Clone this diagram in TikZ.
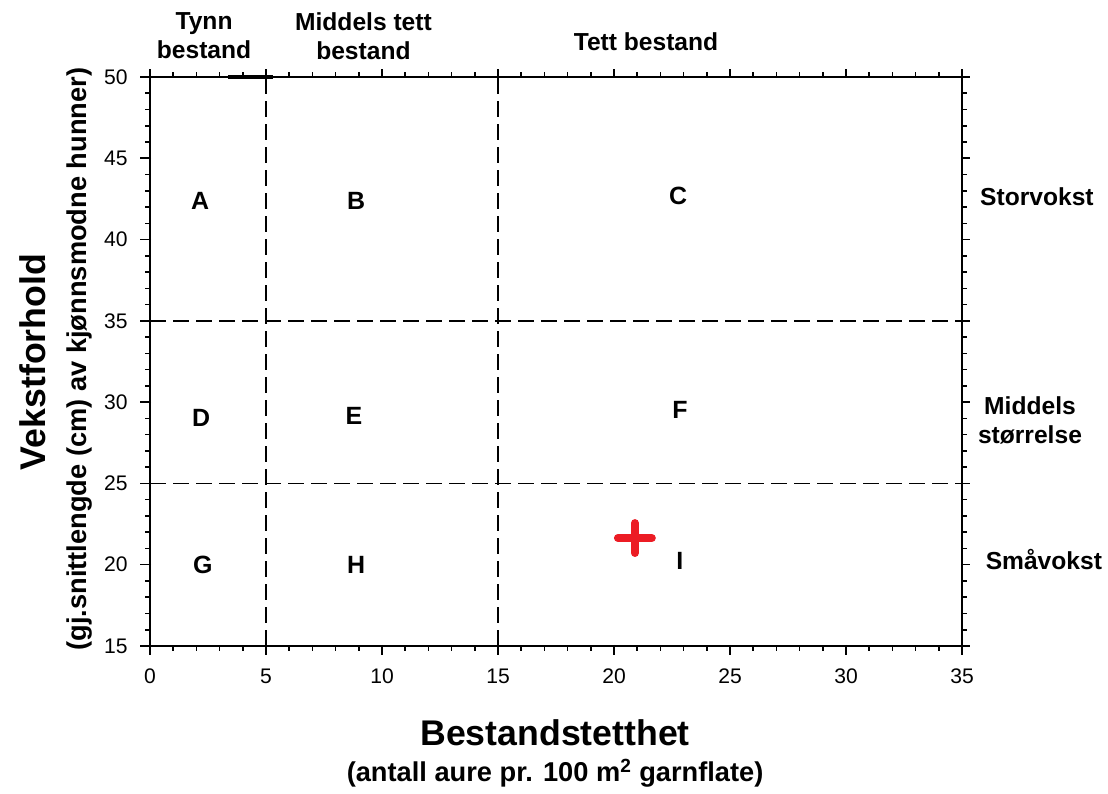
\documentclass[tikz,border=0pt]{standalone}
\usepackage{fontspec}
\setmainfont{Liberation Sans}
\definecolor{plusred}{RGB}{236,28,36}

\begin{document}
\begin{tikzpicture}[x=0.464cm, y=0.32514cm,
	 ticklabel/.style={inner sep=0pt, font=\fontsize{12}{14}\selectfont},
	 zone/.style={font=\fontsize{14.2}{16}\selectfont\bfseries},
	 classlabel/.style={align=center, font=\fontsize{14}{16.5}\selectfont\bfseries},
	 axistitle/.style={font=\fontsize{20.3}{24}\selectfont\bfseries},
	 axissub/.style={font=\fontsize{15.5}{18}\selectfont\bfseries},
	 divider/.style={line width=0.8pt, dash pattern=on 0.32cm off 0.14cm}]
	 \useasboundingbox (-6.466, 5.896) rectangle (41.293, 54.737);

	 % dividers
	 \draw[divider] (5, 15) -- (5, 50);
	 \draw[divider] (15, 15) -- (15, 50);
	 \draw[divider] (0, 35) -- (35, 35);
	 \draw[divider] (0, 25) -- (35, 25);

	 % frame and ticks
	 \draw[line width=1.1pt] (0, 15) rectangle (35, 50);
	 \foreach \x in {1, ..., 34}
	 {
	 \draw[line width=0.9pt] (\x, 15) -- ++(0, -0.1cm);
	 \draw[line width=0.9pt] (\x, 50) -- ++(0, 0.1cm);
	 }
	 \foreach \y in {16, ..., 49}
	 {
	 \draw[line width=0.9pt] (0, \y) -- ++(-0.11cm, 0);
	 \draw[line width=0.9pt] (35, \y) -- ++(0.09cm, 0);
	 }
	 \foreach \x in {0, 5, ..., 35}
	 {
	 \draw[line width=0.9pt] (\x, 15) ++(0, 0.02cm) -- ++(0, -0.2cm);
	 \draw[line width=0.9pt] (\x, 50) ++(0, -0.02cm) -- ++(0, 0.18cm);
	 \node[ticklabel, anchor = north] (xlab\x) at ([yshift=-0.45cm] \x, 15) {\x};
	 }
	 \foreach \y in {15, 20, ..., 50}
	 {
	 \draw[line width=0.9pt] (0, \y) ++(0.02cm, 0) -- ++(-0.22cm, 0);
	 \draw[line width=0.9pt] (35, \y) ++(-0.02cm, 0) -- ++(0.18cm, 0);
	 \node[ticklabel, anchor = east] (ylab\y) at ([xshift=-0.44cm] 0, \y) {\y};
	 }
	 \draw[line width=1.8pt] (3.36, 50) -- (5.3, 50);

	 % zones
	 \node[zone] (zoneA) at (2.16, 42.37) {A};
	 \node[zone] (zoneB) at (8.88, 42.37) {B};
	 \node[zone] (zoneC) at (22.76, 42.68) {C};
	 \node[zone] (zoneD) at (2.20, 29.02) {D};
	 \node[zone] (zoneE) at (8.79, 29.15) {E};
	 \node[zone] (zoneF) at (22.84, 29.52) {F};
	 \node[zone] (zoneG) at (2.28, 19.98) {G};
	 \node[zone] (zoneH) at (8.88, 19.98) {H};
	 \node[zone] (zoneI) at (22.84, 20.23) {I};

	 % density classes
	 \node[classlabel] (thin) at (2.33, 52.52) {Tynn\\bestand};
	 \node[classlabel] (medium) at (9.20, 52.52) {Middels tett\\bestand};
	 \node[classlabel] (dense) at (21.38, 52.15) {Tett bestand};

	 % growth classes
	 \node[classlabel] (large) at (38.23, 42.62) {Storvokst};
	 \node[classlabel] (mid) at (37.93, 28.90) {Middels\\størrelse};
	 \node[classlabel] (small) at (38.53, 20.29) {Småvokst};

	 % axis titles
	 \node[axistitle, rotate = 90] (ytitle) at (-5.04, 32.47) {Vekstforhold};
	 \node[axissub, rotate = 90] (ysub) at (-3.02, 32.65) {(gj.snittlengde (cm) av kjønnsmodne hunner)};
	 \node[axistitle] (xtitle) at (17.46, 9.65) {Bestandstetthet};
	 \node[axissub] (xsub) at (17.46, 7.19) {(antall aure pr. 100 m\textsuperscript{2} garnflate)};

	 % sample
	 \coordinate (sample) at (20.9, 21.64);
	 \draw[plusred, line width=4.5pt, line cap=round] ([xshift=-0.34cm] sample) -- ([xshift=0.34cm] sample);
	 \draw[plusred, line width=4.5pt, line cap=round] ([yshift=-0.3cm] sample) -- ([yshift=0.3cm] sample);
\end{tikzpicture}
\end{document}
